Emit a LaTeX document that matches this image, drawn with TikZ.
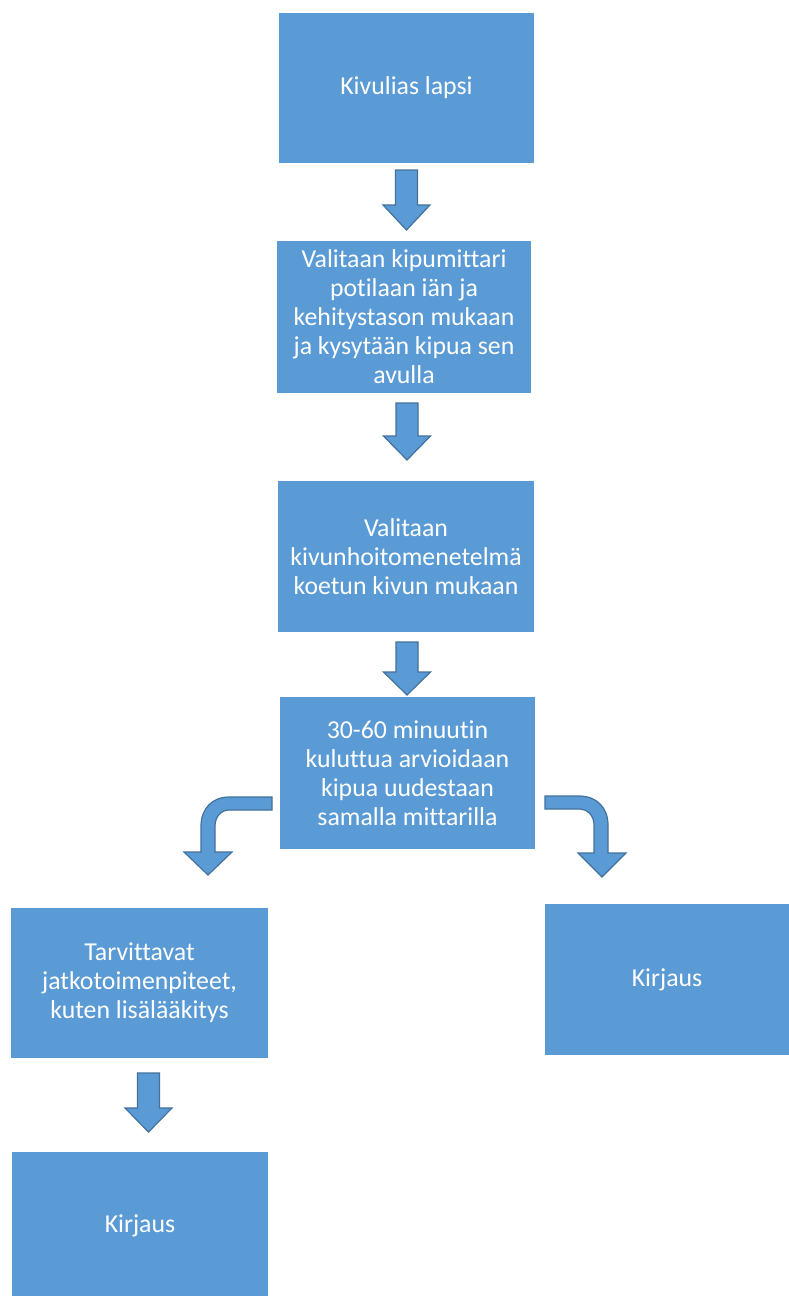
\documentclass[tikz,border=0pt]{standalone}
\usepackage{fontspec}
\setmainfont[Ligatures={NoCommon}]{Carlito}
\definecolor{boxblue}{HTML}{5B9BD5}
\definecolor{arrowedge}{HTML}{41719C}
\begin{document}
\begin{tikzpicture}[x=1pt,y=-1pt,
  box/.style={fill=boxblue, draw=none, text=white, align=center, inner sep=0pt,
    font=\fontsize{25.8}{29}\selectfont},
  blockarrow/.style={fill=boxblue, draw=arrowedge, line width=1.2pt, line join=miter}]
\useasboundingbox (0,0) rectangle (789,1296);
% boxes (corner to corner)
\path[box] (279,13) rectangle (534,163);
\node[box] (b1) at (406.5,88) {Kivulias lapsi};
\path[box] (277,241) rectangle (531,393);
\node[box] (b2) at (404,317) {Valitaan kipumittari\\potilaan iän ja\\kehitystason mukaan\\ja kysytään kipua sen\\avulla};
\path[box] (278,481) rectangle (534,632);
\node[box] (b3) at (406,556.5) {Valitaan\\kivunhoitomenetelmä\\koetun kivun mukaan};
\path[box] (280,697) rectangle (535,849);
\node[box] (b4) at (407.5,773) {30-60 minuutin\\kuluttua arvioidaan\\kipua uudestaan\\samalla mittarilla};
\path[box] (11,908) rectangle (268,1058);
\node[box] (b5) at (139.5,983) {Tarvittavat\\jatkotoimenpiteet,\\kuten lisälääkitys};
\path[box] (545,904) rectangle (789,1055);
\node[box] (b6) at (667,979.5) {Kirjaus};
\path[box] (12,1152) rectangle (268,1296);
\node[box] (b7) at (140,1226) {Kirjaus};
% straight block arrows
\newcommand{\downarrowshape}[4]{% cx, top, headtop, tip
  \draw[blockarrow] (#1-11,#2) -- (#1+11,#2) -- (#1+11,#3) -- (#1+23.5,#3) -- (#1,#4)
    -- (#1-23.5,#3) -- (#1-11,#3) -- cycle;}
\downarrowshape{406.5}{170}{205}{230}
\downarrowshape{407}{403}{436}{460}
\downarrowshape{407}{642}{672}{695}
\downarrowshape{148.5}{1073}{1108}{1132}
% bent arrows
\draw[blockarrow] (272,797) -- (229,797) .. controls (212,797) and (201,809) .. (201,826)
  -- (201,852) -- (184,852) -- (208,875) -- (232,852) -- (215,852) -- (215,826)
  .. controls (215,817) and (221,810) .. (229,810) -- (272,810) -- cycle;
\draw[blockarrow] (545,796) -- (579,796) .. controls (597,796) and (608,808) .. (608,825)
  -- (608,853) -- (626,853) -- (602,877) -- (578,853) -- (594,853) -- (594,825)
  .. controls (594,816) and (588,809) .. (579,809) -- (545,809) -- cycle;
\end{tikzpicture}
\end{document}
